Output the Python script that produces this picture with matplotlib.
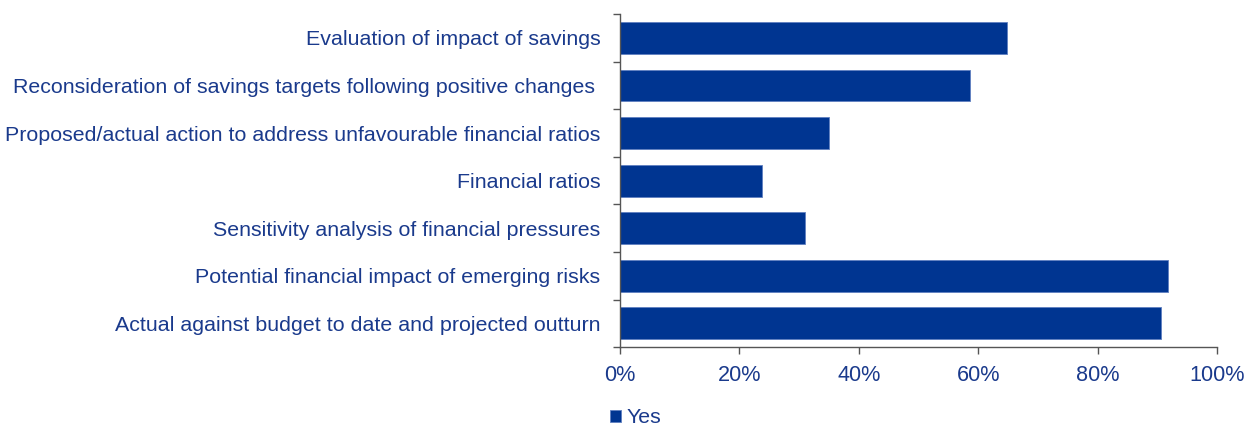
import matplotlib.pyplot as plt
import numpy as np

plt.rcParams['font.family'] = ['Liberation Sans', 'DejaVu Sans']

categories = [
    'Evaluation of impact of savings',
    'Reconsideration of savings targets following positive changes ',
    'Proposed/actual action to address unfavourable financial ratios',
    'Financial ratios',
    'Sensitivity analysis of financial pressures',
    'Potential financial impact of emerging risks',
    'Actual against budget to date and projected outturn',
]
yes_values = [64.8, 58.6, 35.0, 23.7, 30.9, 91.7, 90.6]

text_color = '#1a3a8c'
bar_color = '#003591'

fig = plt.figure(figsize=(12.59, 4.28), dpi=100)
ax = fig.add_axes([0.4925, 0.189, 0.4742, 0.778])

y = np.arange(len(categories))
ax.barh(y, yes_values, height=0.67, color=bar_color, edgecolor='#5f7fc0',
        linewidth=0.6, label='Yes')

ax.set_xlim(0, 100)
ax.set_ylim(len(categories) - 0.5, -0.5)

ax.set_yticks(y)
ax.set_yticklabels(categories)
ax.set_yticks(np.arange(len(categories) + 1) - 0.5, minor=True)
ax.tick_params(axis='y', which='major', length=0, pad=14, labelsize=15.4,
               labelcolor=text_color)
ax.tick_params(axis='y', which='minor', length=5, width=1, color='#555555',
               direction='out')

ax.set_xticks(np.arange(0, 101, 20))
ax.set_xticklabels([f'{v}%' for v in range(0, 101, 20)])
ax.tick_params(axis='x', length=5, width=1, color='#555555', pad=8,
               labelsize=15.6, labelcolor=text_color)

for side in ['top', 'right']:
    ax.spines[side].set_visible(False)
for side in ['left', 'bottom']:
    ax.spines[side].set_color('#555555')
    ax.spines[side].set_linewidth(1)

leg = fig.legend(loc='center', bbox_to_anchor=(0.505, 0.024), frameon=False,
                 fontsize=15.4, handlelength=0.5, handleheight=0.5,
                 handletextpad=0.25)
for t in leg.get_texts():
    t.set_color(text_color)

plt.savefig('out.png', dpi=100)
